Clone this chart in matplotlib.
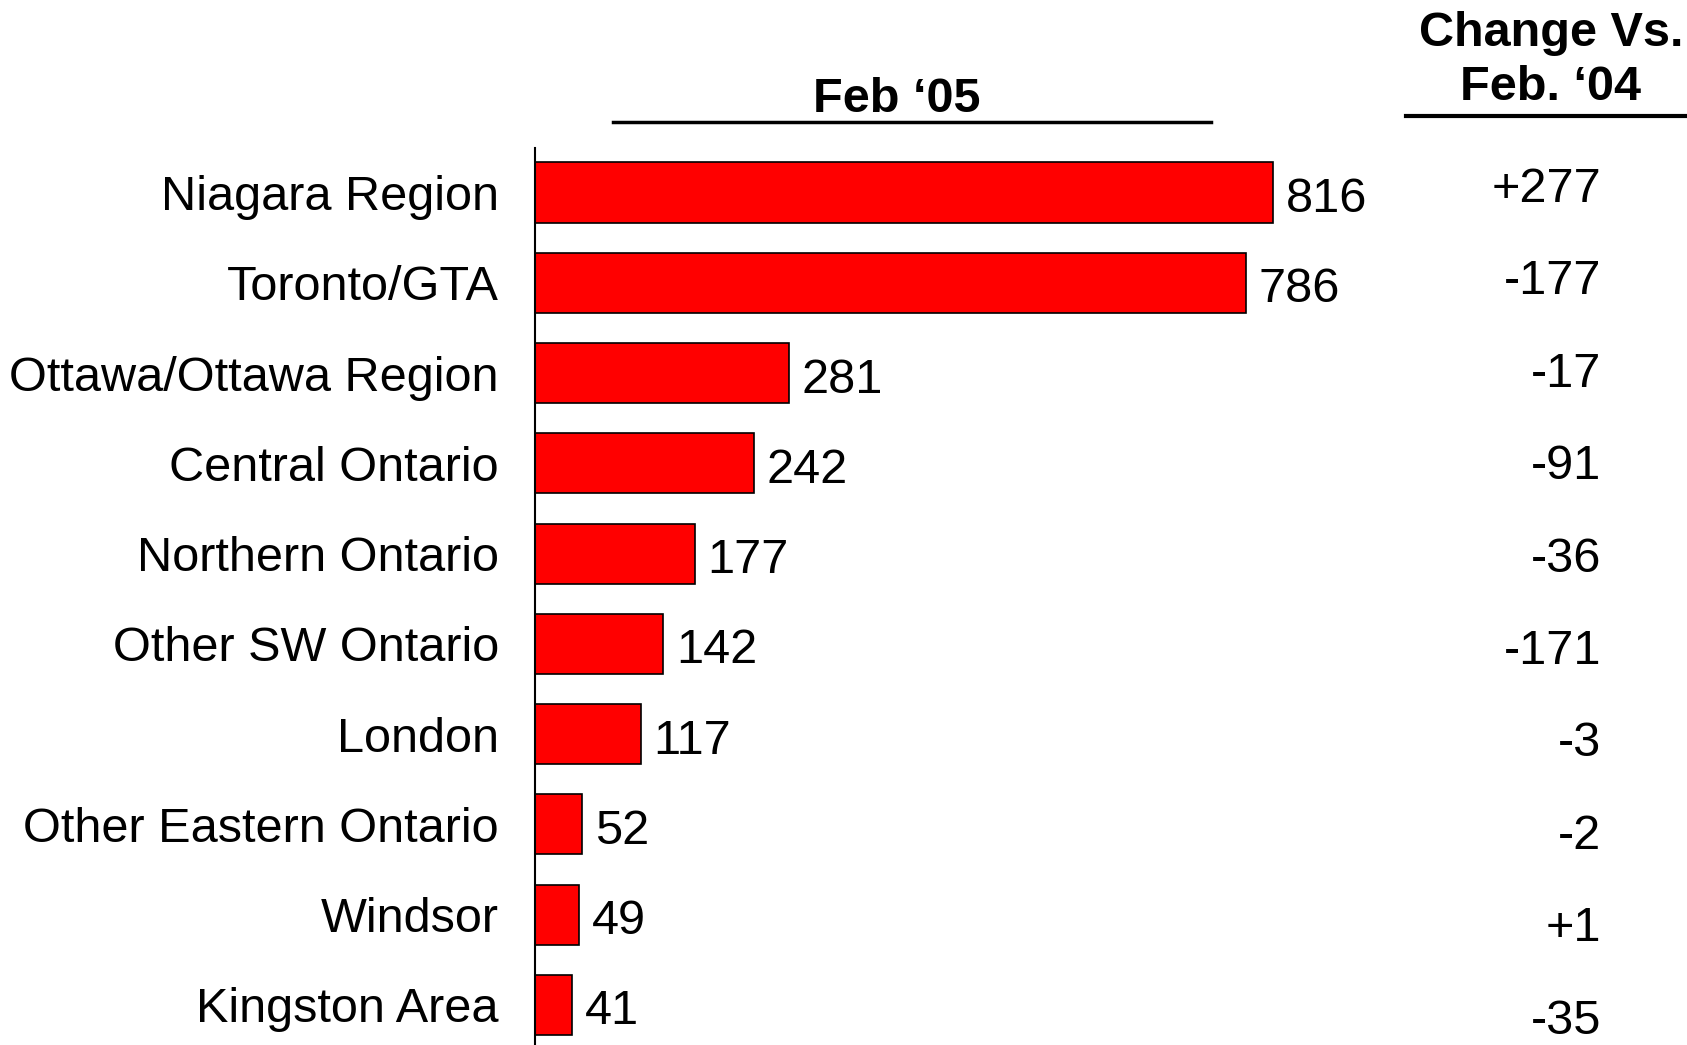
import matplotlib.pyplot as plt
from matplotlib.lines import Line2D

plt.rcParams["font.family"] = ["Liberation Sans", "DejaVu Sans"]

# data
regions = [
    "Niagara Region",
    "Toronto/GTA",
    "Ottawa/Ottawa Region",
    "Central Ontario",
    "Northern Ontario",
    "Other SW Ontario",
    "London",
    "Other Eastern Ontario",
    "Windsor",
    "Kingston Area",
]
feb05 = [816, 786, 281, 242, 177, 142, 117, 52, 49, 41]
change = ["+277", "-177", "-17", "-91", "-36", "-171", "-3", "-2", "+1", "-35"]

W, H = 1687, 1045
FS = 35
fig = plt.figure(figsize=(W / 100, H / 100), dpi=100)

# axes: left edge at the vertical axis line, runs to bottom of figure
ax_left, ax_top = 535, 148.5
ax = fig.add_axes([ax_left / W, 0, 1 - ax_left / W, 1 - ax_top / H])

ypos = list(range(len(regions)))
ax.barh(ypos, feb05, height=0.667, color="#ff0000", edgecolor="black", linewidth=1.2)
ax.set_xlim(0, 1273.6)
ax.set_ylim(9.444, -0.488)

for y, v in zip(ypos, feb05):
    ax.annotate(str(v), (v, y), xytext=(9, -5), textcoords="offset points",
                ha="left", va="center", fontsize=FS)

ax.set_yticks(ypos)
ax.set_yticklabels(regions, fontsize=FS)
ax.tick_params(axis="y", length=0, pad=26)
ax.set_xticks([])
for side in ["top", "right", "bottom"]:
    ax.spines[side].set_visible(False)
ax.spines["left"].set_linewidth(1.5)

# change column
for i, c in enumerate(change):
    y_px = (176 + 85.9 * i) * 1.0759
    fig.text(1601 / W, 1 - y_px / H, c, ha="right", va="center", fontsize=FS)

# headers
fig.text(897 / W, 1 - 99 / H, "Feb \u201805", ha="center", va="center",
         fontsize=FS, fontweight="bold")
fig.add_artist(Line2D([613 / W, 1211 / W], [1 - 121.6 / H] * 2, color="black", linewidth=2.5))

fig.text(1551 / W, 1 - 34 / H, "Change Vs.", ha="center", va="center",
         fontsize=FS, fontweight="bold")
fig.text(1551 / W, 1 - 88 / H, "Feb. \u201804", ha="center", va="center",
         fontsize=FS, fontweight="bold")
fig.add_artist(Line2D([1406 / W, 1.0], [1 - 116 / H] * 2, color="black", linewidth=3))

fig.savefig("out.png", dpi=100)
